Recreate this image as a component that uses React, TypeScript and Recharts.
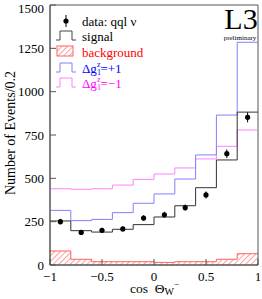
import React from 'react';
import { ComposedChart, Line, Area, Scatter, ErrorBar, XAxis, YAxis, ReferenceArea } from 'recharts';

// histogram bin edges in cos(theta_W-), 10 bins of 0.2
const binEdges = [-1, -0.8, -0.6, -0.4, -0.2, 0, 0.2, 0.4, 0.6, 0.8, 1];
const binCenters = [-0.9, -0.7, -0.5, -0.3, -0.1, 0.1, 0.3, 0.5, 0.7, 0.9];

const signal = [254, 198, 190, 206, 233, 277, 342, 446, 606, 882];
const background = [81, 33, 19, 19, 19, 15, 19, 19, 33, 65];
const gPlus = [315, 256, 263, 302, 356, 410, 496, 635, 865, 1285];
const gMinus = [440, 437, 440, 461, 494, 525, 560, 612, 685, 779];

const dataEvents = [250, 188, 200, 208, 271, 290, 331, 404, 642, 852];
const dataErrors = [16, 14, 14, 14, 16, 17, 18, 20, 25, 29];

const yTicks = [0, 250, 500, 750, 1000, 1250, 1500];
const yMinorTicks = [125, 375, 625, 875, 1125, 1375];
const xTicks = [-1, -0.5, 0, 0.5, 1];
const xMinorTicks = [-0.75, -0.25, 0.25, 0.75];

// step histograms: last edge repeats the last bin value
const histRows = binEdges.map((x, i) => {
  const k = Math.min(i, signal.length - 1);
  return { x, signal: signal[k], background: background[k], gPlus: gPlus[k], gMinus: gMinus[k] };
});

const dataPoints = binCenters.map((x, i) => ({ x, events: dataEvents[i], err: dataErrors[i] }));

const SERIF = '"Liberation Serif", "DejaVu Serif", serif';
const AXIS = '#555';

const fmtTick = (v: number) => String(v).replace('-', '\u2212');

const Dot = (p: any) => <circle cx={p.cx} cy={p.cy} r={2.6} fill="#000" />;

const stepIcon = (cy: number) => `M56,${cy + 4} H60 V${cy - 5} H72 V${cy + 4} H76`;

const Overlay = () => (
  <svg width={262} height={299} style={{ position: 'absolute', left: 0, top: 0, pointerEvents: 'none' }}>
    <defs>
      <pattern id="hatchIcon" width="4" height="4" patternUnits="userSpaceOnUse" patternTransform="rotate(45)">
        <line x1="0" y1="0" x2="0" y2="4" stroke="#ff4040" strokeWidth="1" />
      </pattern>
    </defs>
    <g fontFamily={SERIF} fontSize={13}>
      <line x1={66} y1={15} x2={66} y2={27} stroke="#000" />
      <circle cx={66} cy={21} r={2.6} fill="#000" />
      <text x={82} y={25.5} fill="#000">data: qql ν</text>

      <path d={stepIcon(36)} fill="none" stroke="#444" />
      <text x={82} y={40.5} fill="#000">signal</text>

      <rect x={57} y={46} width={16} height={10} fill="url(#hatchIcon)" stroke="#ff6060" />
      <text x={82} y={56.5} fill="#ff0000">background</text>

      <path d={stepIcon(68)} fill="none" stroke="#8080ff" />
      <text x={82} y={72.5} fill="#0000ff">
        Δg<tspan dy={2} fontSize={8}>1</tspan>
        <tspan dx={-4} dy={-8} fontSize={8}>z</tspan>
        <tspan dy={6}>=+1</tspan>
      </text>

      <path d={stepIcon(83)} fill="none" stroke="#ff80ff" />
      <text x={82} y={88} fill="#ff00ff">
        Δg<tspan dy={2} fontSize={8}>1</tspan>
        <tspan dx={-4} dy={-8} fontSize={8}>z</tspan>
        <tspan dy={6}>={'\u2212'}1</tspan>
      </text>

      <text x={241} y={29} fontSize={30} textAnchor="middle" fill="#000">L3</text>
      <text x={240} y={40} fontSize={7} textAnchor="middle" fill="#000">preliminary</text>

      <text x={130} y={293} fontSize={13.5} fill="#000">
        cos{'\u00a0\u00a0'}Θ<tspan fontSize={10} dy={2}>W</tspan>
        <tspan fontSize={9} dy={-8}>{'\u2212'}</tspan>
      </text>

      <text x={15} y={133} fontSize={14} textAnchor="middle" transform="rotate(-90 15 133)" fill="#000">
        Number of Events/0.2
      </text>
    </g>
  </svg>
);

export default function App() {
  return (
    <div style={{ position: 'absolute', left: 0, top: 0, width: 262, height: 299, background: '#fff' }}>
      <ComposedChart width={262} height={299} data={histRows} margin={{ top: 5, right: 4, left: 0, bottom: 0 }}>
        <defs>
          <pattern id="hatch" width="4" height="4" patternUnits="userSpaceOnUse" patternTransform="rotate(45)">
            <line x1="0" y1="0" x2="0" y2="4" stroke="#ff4040" strokeWidth="1" />
          </pattern>
        </defs>
        <XAxis
          xAxisId="minor"
          type="number"
          domain={[-1, 1]}
          ticks={xMinorTicks}
          tick={false}
          tickSize={-3}
          axisLine={false}
          tickLine={{ stroke: AXIS }}
          height={0}
        />
        <XAxis
          dataKey="x"
          type="number"
          domain={[-1, 1]}
          ticks={xTicks}
          tickFormatter={fmtTick}
          tickSize={-6}
          tickMargin={13}
          height={34}
          axisLine={{ stroke: AXIS }}
          tickLine={{ stroke: AXIS }}
          tick={{ fontSize: 13, fill: '#000', fontFamily: SERIF }}
        />
        <YAxis
          yAxisId="minor"
          type="number"
          domain={[0, 1500]}
          ticks={yMinorTicks}
          tick={false}
          tickSize={-3}
          axisLine={false}
          tickLine={{ stroke: AXIS }}
          width={0}
        />
        <YAxis
          type="number"
          domain={[0, 1500]}
          ticks={yTicks}
          tickSize={-6}
          tickMargin={12}
          width={50}
          axisLine={{ stroke: AXIS }}
          tickLine={{ stroke: AXIS }}
          tick={{ fontSize: 13, fill: '#000', fontFamily: SERIF }}
        />
        <Area
          type="stepAfter"
          dataKey="background"
          stroke="#ff6060"
          strokeWidth={1}
          fill="url(#hatch)"
          fillOpacity={1}
          isAnimationActive={false}
        />
        <Line type="stepAfter" dataKey="gMinus" stroke="#ff80ff" strokeWidth={1} dot={false} isAnimationActive={false} />
        <Line type="stepAfter" dataKey="gPlus" stroke="#8080ff" strokeWidth={1} dot={false} isAnimationActive={false} />
        <Line type="stepAfter" dataKey="signal" stroke="#333" strokeWidth={1} dot={false} isAnimationActive={false} />
        <Scatter data={dataPoints} dataKey="events" shape={Dot} isAnimationActive={false}>
          <ErrorBar dataKey="err" direction="y" width={0} stroke="#000" strokeWidth={1} />
        </Scatter>
        <ReferenceArea x1={-1} x2={1} y1={0} y2={1500} fill="none" stroke={AXIS} ifOverflow="visible" />
      </ComposedChart>
      <Overlay />
    </div>
  );
}
